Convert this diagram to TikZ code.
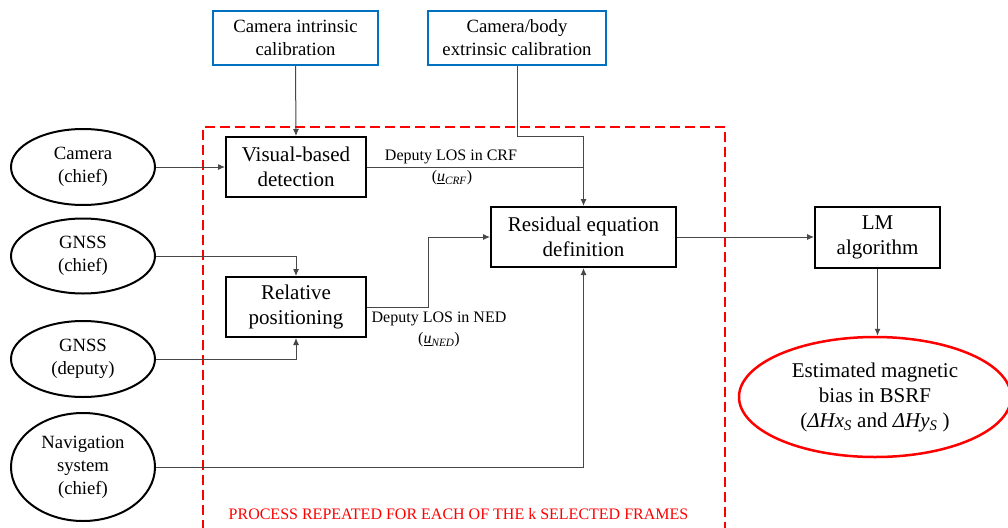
\documentclass[tikz,border=0pt]{standalone}
\usepackage{fontspec}
\setmainfont{Liberation Serif}
\usetikzlibrary{arrows.meta,shapes.geometric}
\definecolor{calblue}{HTML}{0070C0}
\definecolor{pred}{HTML}{FF0000}
\begin{document}
\begin{tikzpicture}[x=1pt,y=-1pt,
  box/.style={draw=black,line width=2pt,rectangle,inner sep=0pt,align=center,font=\rmfamily\fontsize{21}{25}\selectfont},
  calbox/.style={draw=calblue,line width=2pt,rectangle,inner sep=0pt,align=center,font=\rmfamily\fontsize{18.7}{23}\selectfont},
  src/.style={draw=black,line width=2pt,ellipse,inner sep=0pt,minimum width=144,align=center,font=\rmfamily\fontsize{18.7}{23}\selectfont},
  conn/.style={draw=black!72,line width=1pt},
  arr/.style={conn,-{Latex[length=7pt,width=6pt]}},
  lbl/.style={inner sep=0pt,align=center,font=\rmfamily\fontsize{16}{21}\selectfont}]
\useasboundingbox (0,0) rectangle (1008,527);
\clip (0,0) rectangle (1008,527);
\fill[white] (0,0) rectangle (1008,527);
% repeated-process frame
\draw[pred,line width=1.5pt,dash pattern=on 10pt off 5pt] (203,560) -- (203,127) -- (725,127) -- (725,560);
\node[lbl,text=pred] (rep) at (458.5,514) {PROCESS REPEATED FOR EACH OF THE k SELECTED FRAMES};
% calibration boxes
\node[calbox,minimum width=165,minimum height=54] (intr) at (295.5,38) {Camera intrinsic\\calibration};
\node[calbox,minimum width=178,minimum height=54] (extr) at (517,38) {Camera/body\\extrinsic calibration};
% sources
\node[src,minimum height=76] (cam) at (83,167) {Camera\\(chief)};
\node[src,minimum height=75] (gc) at (83,256) {GNSS\\(chief)};
\node[src,minimum height=76] (gd) at (83,359) {GNSS\\(deputy)};
\node[src,minimum height=108] (nav) at (83,467) {Navigation\\system\\(chief)};
% processing boxes
\node[box,minimum width=140,minimum height=60] (vis) at (296,167) {Visual-based\\detection};
\node[box,minimum width=140,minimum height=60] (rel) at (296,307) {Relative\\positioning};
\node[box,minimum width=185,minimum height=60] (res) at (583.5,237) {Residual equation\\definition};
\node[box,minimum width=125,minimum height=61] (lm) at (877.5,237) {LM\\algorithm};
\node[draw=pred,line width=2.5pt,ellipse,inner sep=0pt,minimum width=272,minimum height=120,align=center,font=\rmfamily\fontsize{21}{25}\selectfont] (est) at (875,397)
  {Estimated magnetic\\bias in BSRF\\(\textit{ΔHx}\textsubscript{\textit{S}} and \textit{ΔHy}\textsubscript{\textit{S}}\ )};
% labels
\node[lbl] (l1) at (451,157) {Deputy LOS in CRF};
\node[lbl] (l1b) at (452,178) {(\textit{\underline{u}}\textsubscript{\textit{CRF}})};
\node[lbl] (l2) at (439,319) {Deputy LOS in NED};
\node[lbl] (l2b) at (439,340) {(\textit{\underline{u}}\textsubscript{\textit{NED}})};
% connectors
\coordinate (j1) at (583.5,136);
\coordinate (j2) at (428,307);
\draw[arr] (intr.south) -- (vis.north);
\draw[arr] (extr.south) |- (j1) -- (res.north);
\draw[conn] (vis.east) -- (vis.east -| res.north);
\draw[arr] (cam.east) -- (vis.west);
\draw[arr] (gc.east) -| (rel.north);
\draw[arr] (gd.east) -| (rel.south);
\draw[arr] (rel.east) -- (j2) |- (res.west);
\draw[arr] (nav.east) -| (res.south);
\draw[arr] (res.east) -- (lm.west);
\draw[arr] (lm.south) -- (lm.south |- est.north);
\end{tikzpicture}
\end{document}
